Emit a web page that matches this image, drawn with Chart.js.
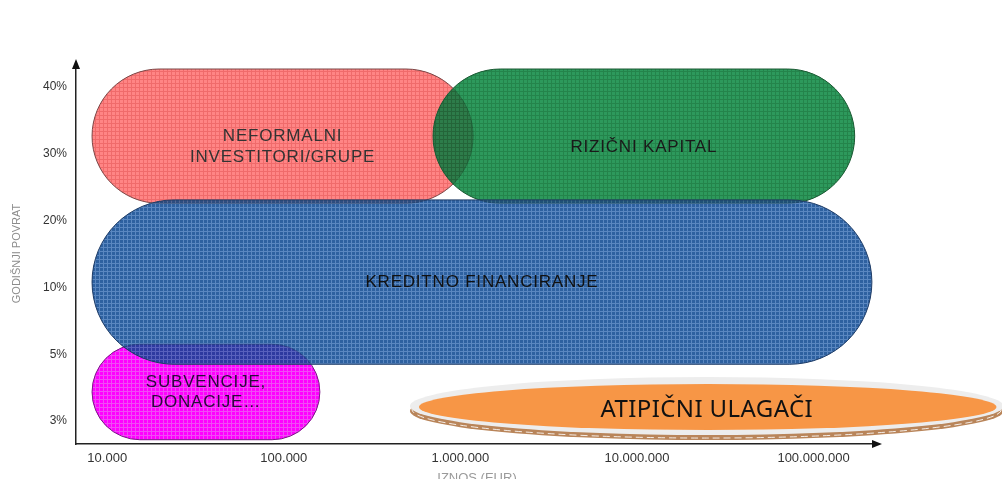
<!DOCTYPE html>
<html>
<head>
<meta charset="utf-8">
<script src="https://cdn.jsdelivr.net/npm/chart.js@4.4.0/dist/chart.umd.min.js"></script>
<style>
  html, body { margin: 0; padding: 0; background: #fff; overflow: hidden; }
  #wrap { width: 1002px; height: 490px; }
</style>
</head>
<body>
<div id="wrap"><canvas id="chart" width="1002" height="490"></canvas></div>
<script>
// investor groups, drawn as pills: amount range (EUR) x return range (position on the return axis)
const investorGroups = ['NEFORMALNI\nINVESTITORI/GRUPE', 'RIZIČNI KAPITAL', 'SUBVENCIJE,\nDONACIJE…', 'KREDITNO FINANCIRANJE']
const amountFrom = [8200, 700000, 8200, 8200]
const amountTo = [1180000, 171000000, 160000, 214000000]
const returnFrom = [3.26, 3.26, -0.28, 0.85]
const returnTo = [5.27, 5.27, 1.15, 3.31]

const returnLabels = ['3%', '5%', '10%', '20%', '30%', '40%']
const amountTicks = [10000, 100000, 1000000, 10000000, 100000000]

const atypicalLabel = 'ATIPIČNI ULAGAČI'
const atypicalAmount = [518000, 1190000000]
const atypicalReturn = [-0.3, 0.66]

const groupStyles = [
    { fill: '#ff8585', grid: '#f06c6c', border: '#7a4848', text: '#333333', dy: 11, lh: 21 },
    { fill: '#2e9a5c', grid: '#25844c', border: '#1c5a34', text: '#1a1a1a', dy: 11, lh: 21 },
    { fill: '#ff00ff', grid: '#f04cf6', border: '#7a1a86', text: '#2a0a3c', dy: 0, lh: 20 },
    { fill: '#2f62a0', grid: '#5a88c0', border: '#1f3c66', text: '#111111', dy: 0, lh: 21 },
]

function makePattern(ctx, base, line) {
    const c = document.createElement('canvas')
    c.width = 4; c.height = 4
    const p = c.getContext('2d')
    p.fillStyle = base
    p.fillRect(0, 0, 4, 4)
    p.fillStyle = line
    p.fillRect(3, 0, 1, 4)
    p.fillRect(0, 3, 4, 1)
    return ctx.createPattern(c, 'repeat')
}

const fmtAmount = v => String(v).replace(/\B(?=(\d{3})+(?!\d))/g, '.')

const pillPlugin = {
    id: 'pills',
    beforeDatasetsDraw(chart) {
        const { ctx, scales: { x, y } } = chart
        investorGroups.forEach((label, i) => {
            const st = groupStyles[i]
            const x0 = x.getPixelForValue(amountFrom[i])
            const x1 = x.getPixelForValue(amountTo[i])
            const yTop = y.getPixelForValue(returnTo[i])
            const yBot = y.getPixelForValue(returnFrom[i])
            const h = yBot - yTop
            ctx.save()
            ctx.beginPath()
            ctx.roundRect(x0, yTop, x1 - x0, h, h / 2)
            ctx.fillStyle = makePattern(ctx, st.fill, st.grid)
            ctx.globalCompositeOperation = 'multiply'
            ctx.fill()
            ctx.globalCompositeOperation = 'source-over'
            ctx.globalAlpha = 0.6
            ctx.fill()
            ctx.globalAlpha = 1
            ctx.lineWidth = 1
            ctx.strokeStyle = st.border
            ctx.stroke()
            ctx.restore()
        })
        investorGroups.forEach((label, i) => {
            const st = groupStyles[i]
            const cx = (x.getPixelForValue(amountFrom[i]) + x.getPixelForValue(amountTo[i])) / 2
            const cy = (y.getPixelForValue(returnFrom[i]) + y.getPixelForValue(returnTo[i])) / 2 + st.dy
            const lines = label.split('\n')
            ctx.save()
            ctx.font = '17px "Liberation Sans", Arial, sans-serif'
            ctx.letterSpacing = '0.8px'
            ctx.fillStyle = st.text
            ctx.textAlign = 'center'
            ctx.textBaseline = 'middle'
            lines.forEach((ln, k) => {
                ctx.fillText(ln, cx, cy + (k - (lines.length - 1) / 2) * st.lh)
            })
            ctx.restore()
        })
    },
    afterDraw(chart) {
        const { ctx, chartArea: a, scales: { x, y } } = chart
        // arrow heads on both axes
        ctx.save()
        ctx.fillStyle = '#111'
        ctx.beginPath()
        ctx.moveTo(a.left, a.top - 4)
        ctx.lineTo(a.left - 4, a.top + 6)
        ctx.lineTo(a.left + 4, a.top + 6)
        ctx.closePath()
        ctx.fill()
        ctx.beginPath()
        ctx.moveTo(a.right + 4, a.bottom)
        ctx.lineTo(a.right - 6, a.bottom - 4)
        ctx.lineTo(a.right - 6, a.bottom + 4)
        ctx.closePath()
        ctx.fill()
        ctx.restore()

        // atypical investors ellipse
        const x0 = x.getPixelForValue(atypicalAmount[0])
        const x1 = x.getPixelForValue(atypicalAmount[1])
        const yTop = y.getPixelForValue(atypicalReturn[1])
        const yBot = y.getPixelForValue(atypicalReturn[0])
        const cx = (x0 + x1) / 2, cy = (yTop + yBot) / 2 - 3
        const rx = (x1 - x0) / 2, ry = (yBot - yTop) / 2 - 3
        ctx.save()
        ctx.beginPath()
        ctx.ellipse(cx, cy + 5, rx, ry, 0, 0, Math.PI * 2)
        ctx.fillStyle = '#b9855a'
        ctx.fill()
        ctx.beginPath()
        ctx.ellipse(cx, cy + 3.5, rx - 2, ry - 0.5, 0, 0, Math.PI * 2)
        ctx.strokeStyle = 'rgba(255,255,255,0.85)'
        ctx.setLineDash([7, 4])
        ctx.lineWidth = 1
        ctx.stroke()
        ctx.setLineDash([])
        ctx.beginPath()
        ctx.ellipse(cx, cy, rx, ry, 0, 0, Math.PI * 2)
        ctx.fillStyle = '#ededed'
        ctx.fill()
        ctx.beginPath()
        ctx.ellipse(cx + 1, cy + 1, rx - 8, ry - 6, 0, 0, Math.PI * 2)
        ctx.fillStyle = '#f79646'
        ctx.fill()
        ctx.font = '24px "Noto Sans", "Open Sans", sans-serif'
        ctx.letterSpacing = '0.4px'
        ctx.fillStyle = '#111'
        ctx.textAlign = 'center'
        ctx.textBaseline = 'middle'
        ctx.fillText(atypicalLabel, cx, cy + 4)
        ctx.restore()
    }
}

new Chart(document.getElementById('chart'), {
    type: 'scatter',
    data: { datasets: [{ data: [] }] },
    options: {
        responsive: false,
        animation: false,
        layout: { padding: { top: 63, right: 124, left: 0, bottom: 0 } },
        plugins: { legend: { display: false }, tooltip: { enabled: false } },
        scales: {
            x: {
                type: 'logarithmic',
                min: Math.pow(10, 3.823),
                max: Math.pow(10, 8.365),
                afterBuildTicks: s => { s.ticks = amountTicks.map(v => ({ value: v })) },
                afterFit: s => { s.height = 46 },
                grid: { display: false, drawTicks: false },
                border: { display: true, color: '#222', width: 1.5 },
                ticks: {
                    padding: 7,
                    color: '#333',
                    font: { family: '"Liberation Sans", Arial, sans-serif', size: 13 },
                    autoSkip: false,
                    maxRotation: 0,
                    callback: v => fmtAmount(v)
                },
                title: {
                    display: true,
                    text: 'IZNOS (EUR)',
                    color: '#9a9a9a',
                    font: { family: '"Liberation Sans", Arial, sans-serif', size: 13 },
                    padding: { top: 0, bottom: 4 }
                }
            },
            y: {
                type: 'linear',
                min: -0.344,
                max: 5.36,
                afterBuildTicks: s => { s.ticks = returnLabels.map((l, i) => ({ value: i })) },
                afterFit: s => { s.width = 76 },
                grid: { display: false, drawTicks: false },
                border: { display: true, color: '#222', width: 1.5 },
                ticks: {
                    padding: 9,
                    color: '#333',
                    font: { family: '"Liberation Sans", Arial, sans-serif', size: 12 },
                    callback: v => returnLabels[v]
                },
                title: {
                    display: true,
                    text: 'GODIŠNJI POVRAT',
                    color: '#8c8c8c',
                    font: { family: '"Liberation Sans", Arial, sans-serif', size: 11 },
                    padding: { top: 10, bottom: 0 }
                }
            }
        }
    },
    plugins: [pillPlugin]
})
</script>
</body>
</html>
